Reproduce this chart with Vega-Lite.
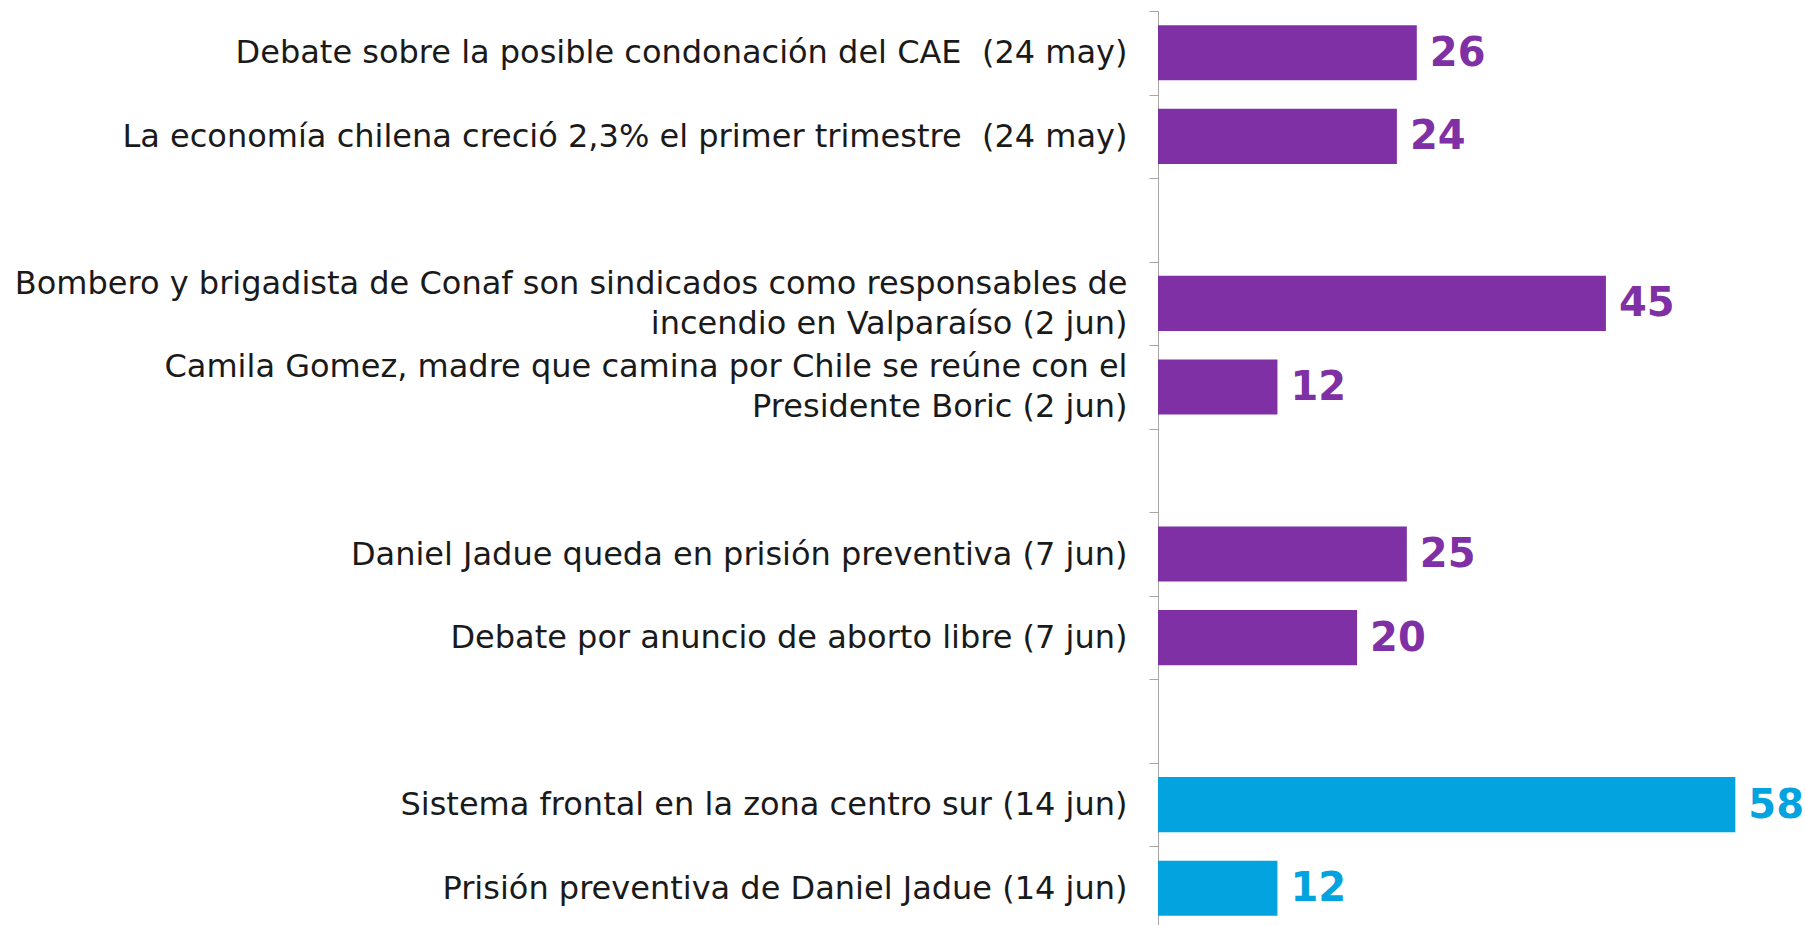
{
  "$schema": "https://vega.github.io/schema/vega-lite/v6.json",
  "width": 1805,
  "height": 925,
  "autosize": {"type": "fit", "contains": "padding"},
  "padding": {"left": 14, "top": 10, "right": 0, "bottom": -5},
  "background": "white",
  "config": {"view": {"stroke": null}},
  "data": {
    "values": [
      {"label": "Debate sobre la posible condonación del CAE\u00a0 (24 may)", "value": 26, "grupo": "mayo-junio"},
      {"label": "La economía chilena creció 2,3% el primer trimestre\u00a0 (24 may)", "value": 24, "grupo": "mayo-junio"},
      {"label": "Bombero y brigadista de Conaf son sindicados como responsables de|incendio en Valparaíso (2 jun)", "value": 45, "grupo": "mayo-junio"},
      {"label": "Camila Gomez, madre que camina por Chile se reúne con el|Presidente Boric (2 jun)", "value": 12, "grupo": "mayo-junio"},
      {"label": "Daniel Jadue queda en prisión preventiva (7 jun)", "value": 25, "grupo": "mayo-junio"},
      {"label": "Debate por anuncio de aborto libre (7 jun)", "value": 20, "grupo": "mayo-junio"},
      {"label": "Sistema frontal en la zona centro sur (14 jun)", "value": 58, "grupo": "14 jun"},
      {"label": "Prisión preventiva de Daniel Jadue (14 jun)", "value": 12, "grupo": "14 jun"}
    ]
  },
  "encoding": {
    "y": {
      "field": "label",
      "type": "nominal",
      "sort": null,
      "scale": {
        "domain": [
          "Debate sobre la posible condonación del CAE\u00a0 (24 may)",
          "La economía chilena creció 2,3% el primer trimestre\u00a0 (24 may)",
          "_1",
          "Bombero y brigadista de Conaf son sindicados como responsables de|incendio en Valparaíso (2 jun)",
          "Camila Gomez, madre que camina por Chile se reúne con el|Presidente Boric (2 jun)",
          "_2",
          "Daniel Jadue queda en prisión preventiva (7 jun)",
          "Debate por anuncio de aborto libre (7 jun)",
          "_3",
          "Sistema frontal en la zona centro sur (14 jun)",
          "Prisión preventiva de Daniel Jadue (14 jun)"
        ],
        "paddingInner": 0.34,
        "paddingOuter": 0.17
      },
      "axis": {
        "title": null,
        "labelExpr": "indexof(datum.value, '_') == 0 ? '' : split(datum.value, '|')",
        "domainColor": "#a6a6a6",
        "tickColor": "#a6a6a6",
        "tickSize": 9,
        "tickOffset": -41.8,
        "labelOffset": {"condition": {"test": "indexof(datum.value, '|') >= 0", "value": 21.8}, "value": 41.8},
        "labelPadding": 22,
        "labelFont": "DejaVu Sans",
        "labelFontSize": 32,
        "labelColor": "#1a1a1a",
        "labelLimit": 0,
        "labelLineHeight": 40,
        "grid": false
      }
    },
    "x": {
      "field": "value",
      "type": "quantitative",
      "scale": {"domain": [0, 65]},
      "axis": null
    },
    "color": {
      "field": "grupo",
      "type": "nominal",
      "scale": {"domain": ["mayo-junio", "14 jun"], "range": ["#7E30A4", "#03A3E0"]},
      "legend": null
    }
  },
  "layer": [
    {"mark": {"type": "bar"}},
    {
      "mark": {
        "type": "text",
        "align": "left",
        "baseline": "middle",
        "dx": 13,
        "dy": 1,
        "font": "DejaVu Sans",
        "fontWeight": "bold",
        "fontSize": 40
      },
      "encoding": {"text": {"field": "value", "type": "quantitative"}}
    }
  ]
}
